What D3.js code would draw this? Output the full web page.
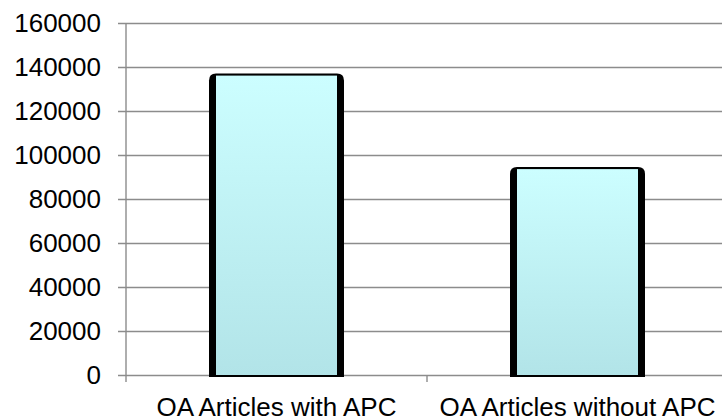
<!DOCTYPE html>
<html lang="en">
<head>
    <meta charset="UTF-8">
    <title>OA Articles</title>
    <script src="https://cdn.jsdelivr.net/npm/d3@7"></script>
    <style>
        body { margin: 0; background: #fff; }
        text { font-family: "Liberation Sans", Arial, sans-serif; fill: #000; }
    </style>
</head>
<body>
    <svg id="chart" width="722" height="419"></svg>

    <script>
        const categories = ["OA Articles with APC", "OA Articles without APC"];
        const values = [137000, 94500];
        const yTicks = [0, 20000, 40000, 60000, 80000, 100000, 120000, 140000, 160000];

        const svg = d3.select("#chart");
        const plotLeft = 126, plotRight = 728, plotTop = 23, plotBottom = 375;

        const x = d3.scaleBand().domain(categories).range([plotLeft, plotRight]);
        const y = d3.scaleLinear().domain([0, 160000]).range([plotBottom, plotTop]);

        const defs = svg.append("defs");
        const grad = defs.append("linearGradient")
            .attr("id", "barfill")
            .attr("x1", 0).attr("y1", 0).attr("x2", 0).attr("y2", 1);
        grad.append("stop").attr("offset", "0%").attr("stop-color", "#ccfeff");
        grad.append("stop").attr("offset", "100%").attr("stop-color", "#b2e4e8");

        // gridlines
        svg.append("g")
            .selectAll("line")
            .data(yTicks)
            .enter()
            .append("line")
            .attr("x1", plotLeft - 8)
            .attr("x2", 722)
            .attr("y1", d => Math.round(y(d)) + 0.5)
            .attr("y2", d => Math.round(y(d)) + 0.5)
            .style("stroke", "#8c8c8c")
            .style("stroke-width", 1.4);

        // y axis line
        svg.append("line")
            .attr("x1", plotLeft).attr("x2", plotLeft)
            .attr("y1", plotTop).attr("y2", plotBottom + 7)
            .style("stroke", "#8c8c8c")
            .style("stroke-width", 1.4);

        // category ticks
        svg.append("g")
            .selectAll("line")
            .data(categories.slice(1))
            .enter()
            .append("line")
            .attr("x1", d => x(d)).attr("x2", d => x(d))
            .attr("y1", plotBottom).attr("y2", plotBottom + 7)
            .style("stroke", "#8c8c8c")
            .style("stroke-width", 1.4);

        // y labels
        svg.append("g")
            .selectAll("text")
            .data(yTicks)
            .enter()
            .append("text")
            .attr("x", 101)
            .attr("y", d => y(d))
            .attr("dy", "0.36em")
            .attr("text-anchor", "end")
            .style("font-size", "26px")
            .text(d => d);

        const bw = 135;
        const bars = svg.append("g")
            .selectAll("g")
            .data(categories)
            .enter()
            .append("g");

        // dark backing shape, rounded top
        bars.append("path")
            .attr("d", (d, i) => {
                const x0 = x(d) + x.bandwidth() / 2 - bw / 2;
                const x1 = x0 + bw;
                const yt = y(values[i]);
                const yb = plotBottom + 2;
                const r = 7;
                return `M${x0},${yb} L${x0},${yt + r} Q${x0},${yt} ${x0 + r},${yt} L${x1 - r},${yt} Q${x1},${yt} ${x1},${yt + r} L${x1},${yb} Z`;
            })
            .style("fill", "#000");

        // light gradient face
        bars.append("rect")
            .attr("x", d => x(d) + x.bandwidth() / 2 - bw / 2 + 7)
            .attr("y", (d, i) => y(values[i]) + 2)
            .attr("width", bw - 14)
            .attr("height", (d, i) => plotBottom - y(values[i]) - 2)
            .style("fill", "url(#barfill)");

        // category labels
        svg.append("g")
            .selectAll("text")
            .data(categories)
            .enter()
            .append("text")
            .attr("x", d => x(d) + x.bandwidth() / 2)
            .attr("y", 416)
            .attr("text-anchor", "middle")
            .style("font-size", "26px")
            .text(d => d);
    </script>
</body>
</html>
